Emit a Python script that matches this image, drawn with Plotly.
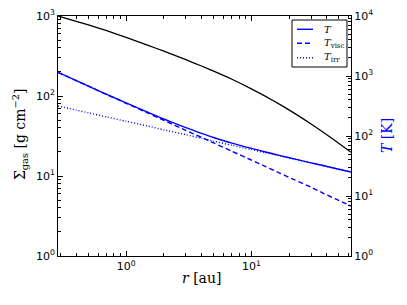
import plotly.graph_objects as go

# data
r_au = [0.286, 0.4, 0.5, 0.7, 1, 1.5, 2, 3, 4, 5, 7, 10, 13, 17, 22, 30, 38, 48, 62.5]
sigma_gas = [1000, 857, 773, 655, 541, 430, 363, 284, 237, 205, 162, 123, 98.9, 78.0, 61.1, 44.7, 34.7, 26.8, 19.8]
T_tot = [1150, 838, 679, 494, 356, 248, 192, 137.5, 110.8, 94.5, 76.1, 62.3, 54.1, 47.2, 41.5, 35.7, 31.9, 28.5, 25.1]
T_visc = [1148, 836, 676, 490, 351, 240, 182, 124, 94.8, 76.7, 55.6, 39.8, 30.9, 23.9, 18.7, 14.0, 11.0, 8.77, 6.8]
T_irr = [316, 270, 243, 208, 176, 146, 127, 105, 91.4, 82, 70, 59.5, 52.6, 46.4, 41.1, 35.5, 31.8, 28.4, 25.1]

x_major = [1, 10]
x_major_text = ["10<sup>0</sup>", "10<sup>1</sup>"]
yl_major = [1, 10, 100, 1000]
yl_major_text = ["10<sup>0</sup>", "10<sup>1</sup>", "10<sup>2</sup>", "10<sup>3</sup>"]
yr_major = [1, 10, 100, 1000, 10000]
yr_major_text = ["10<sup>0</sup>", "10<sup>1</sup>", "10<sup>2</sup>", "10<sup>3</sup>", "10<sup>4</sup>"]

legend_labels = ["<i>T</i>", "<i>T</i><sub>visc</sub>", "<i>T</i><sub>irr</sub>"]
legend_dashes = ["solid", "5px,3px", "1px,2px"]


def minors(decades):
    out = []
    for d in decades:
        for m in range(2, 10):
            out.append(m * 10 ** d)
    return out


BLUE = "#0000ff"
fig = go.Figure()
fig.add_trace(go.Scatter(x=r_au, y=sigma_gas, mode="lines",
                         line=dict(color="black", width=1.3, shape="spline", smoothing=0.6),
                         showlegend=False, yaxis="y"))
for vals, dash in zip([T_tot, T_visc, T_irr], legend_dashes):
    fig.add_trace(go.Scatter(x=r_au, y=vals, mode="lines", showlegend=False,
                             line=dict(color=BLUE, width=1.4, dash=dash, shape="spline", smoothing=0.6),
                             yaxis="y2"))

tickfont = dict(family="DejaVu Sans", size=11, color="black")
common = dict(type="log", showgrid=False, zeroline=False, showline=True, linecolor="black",
              linewidth=1, ticks="inside", ticklen=5, tickcolor="black", tickfont=tickfont,
              tickmode="array", automargin=False)

# hand-made legend box (paper coordinates)
shapes = [dict(type="rect", xref="paper", yref="paper", x0=0.7986, x1=0.9863, y0=0.7875, y1=0.9833,
               line=dict(color="black", width=1), fillcolor="white", layer="above")]
annotations = []
rows_y = [0.9446, 0.8863, 0.8263]
for lab, dash, yy in zip(legend_labels, legend_dashes, rows_y):
    shapes.append(dict(type="line", xref="paper", yref="paper", x0=0.8157, x1=0.8703, y0=yy, y1=yy,
                       line=dict(color=BLUE, width=1.4, dash=dash), layer="above"))
    annotations.append(dict(text=lab, xref="paper", yref="paper", x=0.9, y=yy, xanchor="left",
                            yanchor="middle", showarrow=False,
                            font=dict(family="DejaVu Serif", size=10, color="black")))

# axis titles
annotations += [
    dict(text="<i>r</i> [au]", xref="paper", yref="paper", x=0.491, y=-0.0917, xanchor="center",
         yanchor="middle", showarrow=False, font=dict(family="DejaVu Serif", size=14, color="black")),
    dict(text="Σ<sub>gas</sub> [g cm<sup>−2</sup>]", xref="paper", yref="paper", x=-0.1297, y=0.508,
         xanchor="center", yanchor="middle", textangle=-90, showarrow=False,
         font=dict(family="DejaVu Serif", size=14, color="black")),
    dict(text="<i>T</i> [K]", xref="paper", yref="paper", x=1.1229, y=0.5, xanchor="center",
         yanchor="middle", textangle=-90, showarrow=False,
         font=dict(family="DejaVu Serif", size=14, color=BLUE)),
]

fig.update_layout(
    width=407, height=305,
    margin=dict(l=50, r=64, t=8, b=57),
    paper_bgcolor="white", plot_bgcolor="white",
    showlegend=False,
    xaxis=dict(**common, range=[-0.544, 1.796], tickvals=x_major, ticktext=x_major_text,
               mirror="ticks",
               minor=dict(ticks="inside", ticklen=3, tickcolor="black",
                          tickvals=minors([-1, 0, 1]))),
    yaxis=dict(**common, range=[0, 3], tickvals=yl_major, ticktext=yl_major_text,
               minor=dict(ticks="inside", ticklen=3, tickcolor="black",
                          tickvals=minors([0, 1, 2]))),
    yaxis2=dict(**common, range=[0, 4], tickvals=yr_major, ticktext=yr_major_text,
                overlaying="y", side="right", anchor="x",
                minor=dict(ticks="inside", ticklen=3, tickcolor="black",
                           tickvals=minors([0, 1, 2, 3]))),
    shapes=shapes,
    annotations=annotations,
)

fig.write_html("out.html")
